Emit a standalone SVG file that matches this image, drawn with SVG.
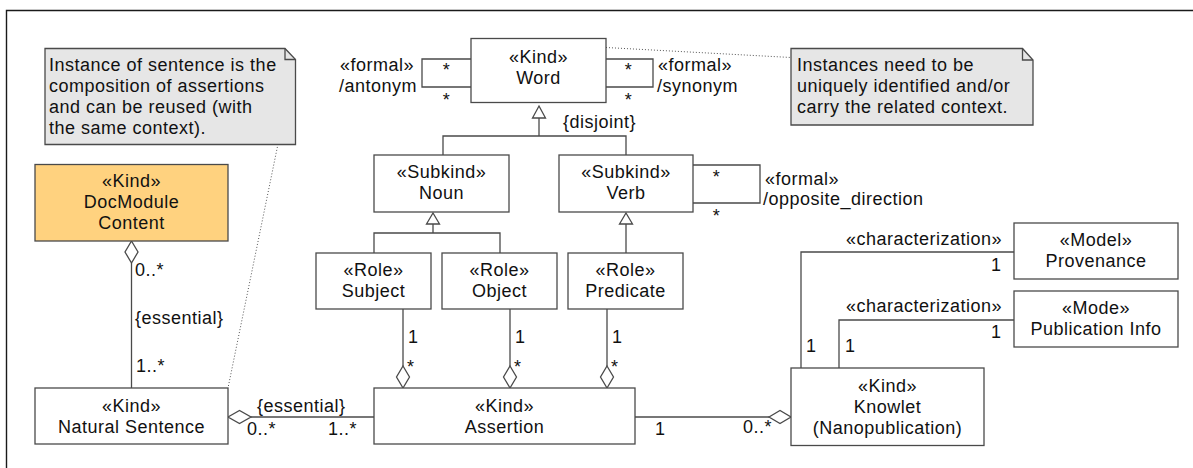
<svg xmlns="http://www.w3.org/2000/svg" width="1193" height="468" viewBox="0 0 1193 468">
<style>
.bg{fill:#fff}
.box{fill:#fff;stroke:#4a4a4a;stroke-width:1.3}
.kind2{fill:#ffd27f;stroke:#4a4a4a;stroke-width:1.3}
.note{fill:#e6e6e6;stroke:#4a4a4a;stroke-width:1.3}
.ln{fill:none;stroke:#4a4a4a;stroke-width:1.3}
.dia{fill:#fff;stroke:#4a4a4a;stroke-width:1.3}
.dot{fill:none;stroke:#555;stroke-width:1;stroke-dasharray:1 2}
.frame{fill:none;stroke:#1a1a1a;stroke-width:1.4}
text{font-family:"Liberation Sans",Arial,Helvetica,sans-serif;font-size:18px;letter-spacing:0.5px;fill:#111}
.c{text-anchor:middle}
</style>
<rect class="bg" x="0" y="0" width="1193" height="468"/>
<path class="frame" d="M6.5,468 V10.5 H1193"/>

<g id="connectors">
  <!-- note links -->
  <line class="dot" x1="278" y1="144" x2="228" y2="388"/>
  <line class="dot" x1="606" y1="47.5" x2="791" y2="57.5"/>
  <!-- self loops -->
  <polyline class="ln" points="471,59 422,59 422,87 471,87"/>
  <text x="446.5" y="76" class="c">*</text>
  <text x="446.5" y="106" class="c">*</text>
  <text x="340" y="71">«formal»</text>
  <text x="339" y="92">/antonym</text>
  <polyline class="ln" points="606,59 653,59 653,87 606,87"/>
  <text x="628.5" y="76" class="c">*</text>
  <text x="628.5" y="106" class="c">*</text>
  <text x="658" y="71">«formal»</text>
  <text x="657" y="92">/synonym</text>
  <polyline class="ln" points="693,165 760,165 760,203 693,203"/>
  <text x="716.5" y="183" class="c">*</text>
  <text x="716.5" y="222" class="c">*</text>
  <text x="765" y="185">«formal»</text>
  <text x="763" y="205">/opposite_direction</text>
  <!-- generalization Word -->
  <polyline class="ln" points="443,155 443,136 626,136 626,155"/>
  <line class="ln" x1="539" y1="118" x2="539" y2="136"/>
  <polygon class="dia" points="539,106 545.5,118 532.5,118"/>
  <text x="563" y="128">{disjoint}</text>
  <!-- generalization Noun -->
  <polyline class="ln" points="374,253 374,233 500,233 500,253"/>
  <line class="ln" x1="433" y1="224" x2="433" y2="233"/>
  <polygon class="dia" points="433,213 439.5,224 426.5,224"/>
  <!-- generalization Verb -->
  <line class="ln" x1="626" y1="224" x2="626" y2="253"/>
  <polygon class="dia" points="626,213 632.5,224 619.5,224"/>
  <!-- roles to assertion -->
  <line class="ln" x1="403" y1="309" x2="403" y2="366"/>
  <polygon class="dia" points="403,366 409.5,377 403,388 396.5,377"/>
  <text x="408" y="343">1</text>
  <text x="407" y="373">*</text>
  <line class="ln" x1="510" y1="309" x2="510" y2="366"/>
  <polygon class="dia" points="510,366 516.5,377 510,388 503.5,377"/>
  <text x="515" y="343">1</text>
  <text x="514" y="373">*</text>
  <line class="ln" x1="607" y1="309" x2="607" y2="366"/>
  <polygon class="dia" points="607,366 613.5,377 607,388 600.5,377"/>
  <text x="612" y="343">1</text>
  <text x="611" y="373">*</text>
  <!-- DocModule to Natural Sentence -->
  <line class="ln" x1="131.5" y1="263" x2="131.5" y2="388"/>
  <polygon class="dia" points="131.5,241 138,252 131.5,263 125,252"/>
  <text x="135" y="276">0..*</text>
  <text x="135" y="324">{essential}</text>
  <text x="136" y="372">1..*</text>
  <!-- Natural Sentence to Assertion -->
  <line class="ln" x1="251" y1="417" x2="374" y2="417"/>
  <polygon class="dia" points="228,417 239.5,410.5 251,417 239.5,423.5"/>
  <text x="257" y="412">{essential}</text>
  <text x="247" y="435">0..*</text>
  <text x="328" y="435">1..*</text>
  <!-- Assertion to Knowlet -->
  <line class="ln" x1="635" y1="417" x2="769" y2="417"/>
  <polygon class="dia" points="769,417 780,410.5 791,417 780,423.5"/>
  <text x="655" y="435">1</text>
  <text x="743" y="433">0..*</text>
  <!-- characterizations -->
  <polyline class="ln" points="801,368 801,252 1014,252"/>
  <text x="846" y="245">«characterization»</text>
  <text x="991" y="271">1</text>
  <text x="806" y="352">1</text>
  <polyline class="ln" points="839,368 839,320 1014,320"/>
  <text x="846" y="312">«characterization»</text>
  <text x="991" y="338">1</text>
  <text x="845" y="352">1</text>
</g>

<g id="note1">
  <path class="note" d="M45,48.5 H285 L295.5,59.5 V144.5 H45 Z"/>
  <path class="ln" d="M285,48.5 V59.5 H295.5"/>
  <text x="49" y="70.5">Instance of sentence is the</text>
  <text x="49" y="91.5">composition of assertions</text>
  <text x="49" y="112.5">and can be reused (with</text>
  <text x="49" y="133.5">the same context).</text>
</g>
<g id="note2">
  <path class="note" d="M791,48.5 H1022.5 L1033,60 V125 H791 Z"/>
  <path class="ln" d="M1022.5,48.5 V60 H1033"/>
  <text x="797" y="70.5">Instances need to be</text>
  <text x="797" y="91.5">uniquely identified and/or</text>
  <text x="797" y="112.5">carry the related context.</text>
</g>
<g id="word">
  <rect class="box" x="471" y="38.5" width="135" height="64"/>
  <text x="538.5" y="63" class="c">«Kind»</text>
  <text x="538.5" y="84" class="c">Word</text>
</g>
<g id="noun">
  <rect class="box" x="374" y="155" width="135" height="57"/>
  <text x="441.5" y="178" class="c">«Subkind»</text>
  <text x="441.5" y="199" class="c">Noun</text>
</g>
<g id="verb">
  <rect class="box" x="559" y="155" width="134" height="57"/>
  <text x="626" y="178" class="c">«Subkind»</text>
  <text x="626" y="199" class="c">Verb</text>
</g>
<g id="subject">
  <rect class="box" x="316" y="253" width="115" height="56"/>
  <text x="373.5" y="276" class="c">«Role»</text>
  <text x="373.5" y="297" class="c">Subject</text>
</g>
<g id="object">
  <rect class="box" x="442" y="253" width="115" height="56"/>
  <text x="499.5" y="276" class="c">«Role»</text>
  <text x="499.5" y="297" class="c">Object</text>
</g>
<g id="predicate">
  <rect class="box" x="568" y="253" width="115" height="56"/>
  <text x="625.5" y="276" class="c">«Role»</text>
  <text x="625.5" y="297" class="c">Predicate</text>
</g>
<g id="docmodule">
  <rect class="kind2" x="35" y="164.5" width="193" height="76.5"/>
  <text x="131.5" y="187" class="c">«Kind»</text>
  <text x="131.5" y="208" class="c">DocModule</text>
  <text x="131.5" y="229" class="c">Content</text>
</g>
<g id="naturalsentence">
  <rect class="box" x="35" y="388" width="193" height="56"/>
  <text x="131.5" y="411.5" class="c">«Kind»</text>
  <text x="131.5" y="432.5" class="c">Natural Sentence</text>
</g>
<g id="assertion">
  <rect class="box" x="374" y="388" width="261" height="56"/>
  <text x="504.5" y="411.5" class="c">«Kind»</text>
  <text x="504.5" y="432.5" class="c">Assertion</text>
</g>
<g id="knowlet">
  <rect class="box" x="791" y="368" width="193" height="77.5"/>
  <text x="887.5" y="392" class="c">«Kind»</text>
  <text x="887.5" y="413" class="c">Knowlet</text>
  <text x="887.5" y="434" class="c">(Nanopublication)</text>
</g>
<g id="provenance">
  <rect class="box" x="1014" y="223" width="164" height="56"/>
  <text x="1096" y="246" class="c">«Model»</text>
  <text x="1096" y="267" class="c">Provenance</text>
</g>
<g id="publicationinfo">
  <rect class="box" x="1014" y="291" width="164" height="56"/>
  <text x="1096" y="314" class="c">«Mode»</text>
  <text x="1096" y="335" class="c">Publication Info</text>
</g>
</svg>
